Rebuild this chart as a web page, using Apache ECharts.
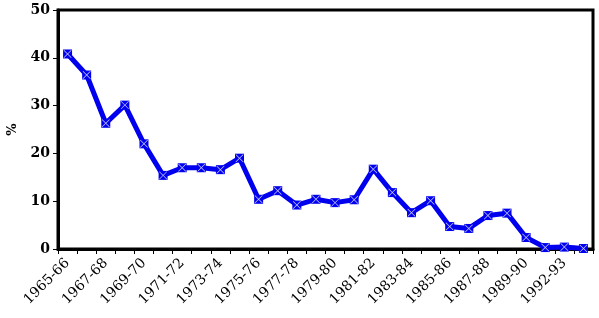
<!DOCTYPE html>
<html>
<head>
<meta charset="utf-8">
<script src="https://cdn.jsdelivr.net/npm/echarts@6/dist/echarts.min.js"></script>
<style>html,body{margin:0;padding:0;background:#fff}#c{width:599px;height:318px}</style>
</head>
<body>
<div id="c"></div>
<script>
const categories = ["1965-66","1966-67","1967-68","1968-69","1969-70","1970-71","1971-72","1972-73","1973-74","1974-75","1975-76","1976-77","1977-78","1978-79","1979-80","1980-81","1981-82","1982-83","1983-84","1984-85","1985-86","1986-87","1987-88","1988-89","1989-90","1990-91","1992-93","1993-94"];
const values = [40.8,36.4,26.3,30.1,22.0,15.4,17.0,17.0,16.6,19.0,10.4,12.2,9.2,10.4,9.7,10.3,16.7,11.8,7.6,10.1,4.7,4.3,7.0,7.5,2.4,0.3,0.4,0.1];
const yTicks = [0,10,20,30,40,50];

const chart = echarts.init(document.getElementById('c'), null, {renderer:'canvas'});
chart.setOption({
  animation:false,
  backgroundColor:'#fff',
  grid:{left:58,right:6,top:10,bottom:69,outerBoundsMode:'none',containLabel:false,show:true,borderColor:'#000',borderWidth:3,backgroundColor:'transparent'},
  xAxis:{
    type:'category',
    data:categories,
    boundaryGap:true,
    axisLine:{lineStyle:{color:'#000',width:3}},
    axisTick:{show:true,interval:0,length:5,lineStyle:{color:'#000',width:1}},
    axisLabel:{interval:1,rotate:45,margin:12,color:'#000',fontFamily:'DejaVu Serif',fontSize:14},
    splitLine:{show:false}
  },
  yAxis:{
    type:'value',
    min:yTicks[0],max:yTicks[yTicks.length-1],interval:10,
    name:'%',nameLocation:'middle',nameGap:38,
    nameTextStyle:{color:'#000',fontFamily:'DejaVu Serif',fontWeight:'bold',fontSize:13},
    axisLine:{show:true,lineStyle:{color:'#000',width:3}},
    axisTick:{show:true,length:5,lineStyle:{color:'#000',width:1}},
    axisLabel:{margin:8,color:'#000',fontFamily:'DejaVu Serif',fontWeight:'bold',fontSize:14},
    splitLine:{show:false}
  },
  series:[{
    type:'line',
    data:values,
    lineStyle:{color:'#0000ee',width:5},
    symbol:'rect',
    symbolSize:9,
    showAllSymbol:true,
    itemStyle:{color:'#0000ee'},
    z:2
  },{
    type:'scatter',
    data:values,
    symbol:'path://M0.6,0 L5,4.4 L9.4,0 L10,0.6 L5.6,5 L10,9.4 L9.4,10 L5,5.6 L0.6,10 L0,9.4 L4.4,5 L0,0.6 Z',
    symbolSize:8,
    itemStyle:{color:'#fff'},
    silent:true,
    z:3
  }]
});
</script>
</body>
</html>
